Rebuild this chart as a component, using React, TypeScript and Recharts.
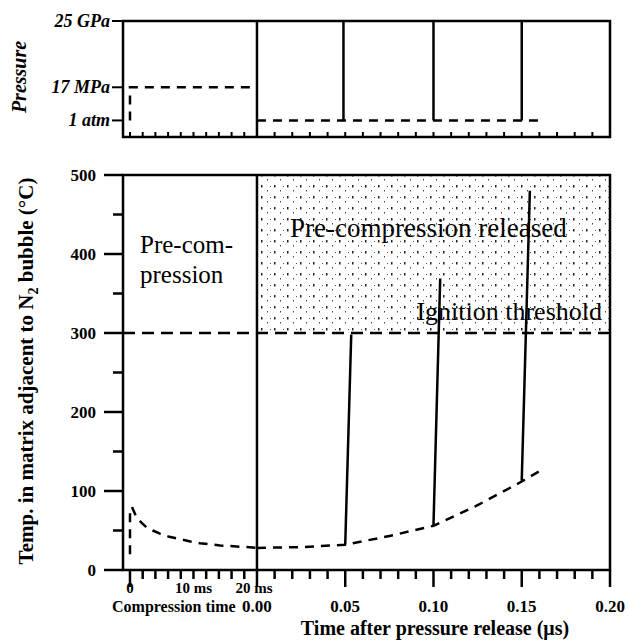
import React from 'react';
import { LineChart, Line, XAxis, YAxis, ReferenceLine, ReferenceArea } from 'recharts';

const SERIF = '"Liberation Serif", "Times New Roman", serif';
const INK = '#000';

// the time axis is split: compression time (ms) on the left, time after release (μs) on the right
const MS_END = 20;
const US_TO_UNIT = 278;
const U_MIN = -1.1;
const U_MAX = MS_END + 0.2 * US_TO_UNIT;
const fromMs = (ms: number) => ms;
const fromUs = (us: number) => MS_END + us * US_TO_UNIT;

// ticks
const msTickValues = [0, 2, 4, 6, 8, 10, 12, 14, 16, 18, 20];
const usTickValues = [0.01, 0.02, 0.03, 0.04, 0.05, 0.06, 0.07, 0.08, 0.09, 0.1, 0.11, 0.12, 0.13, 0.14, 0.15, 0.16, 0.17, 0.18, 0.19, 0.2];
const msLabelValues = [0, 10, 20];
const msLabelTexts = ['0', '10 ms', '20 ms'];
const usLabelValues = [0, 0.05, 0.1, 0.15, 0.2];
const usLabelTexts = ['0.00', '0.05', '0.10', '0.15', '0.20'];

const tempTicks = [0, 50, 100, 150, 200, 250, 300, 350, 400, 450, 500];
const tempLabelled = [0, 100, 200, 300, 400, 500];

const pressureLevels = [0.5, 1.5, 3.5];
const pressureLabels = ['1 atm', '17 MPa', '25 GPa'];

// pressure history
const compPressureMs = [0, 0, 19.5];
const compPressureLevel = [0.5, 1.5, 1.5];
const relPressureUs = [0, 0.16];
const relPressureLevel = [0.5, 0.5];
const pulseUs = [0.049, 0.1, 0.15];

// temperature history
const compTempMs = [0, 0, 0.3, 1, 1.8, 2.6, 3.6, 4.7, 6.2, 7.9, 9.5, 11, 14.2, 18.4, 20];
const compTemp = [20, 72, 80, 67, 60, 54, 50, 46, 42, 39, 36, 34, 31, 29, 28];
const relTempUs = [0, 0.025, 0.05, 0.075, 0.1, 0.125, 0.15, 0.16];
const relTemp = [28, 29, 32, 43, 56, 82, 112, 125];
const ignStartUs = [0.05, 0.1, 0.15];
const ignStartTemp = [32, 57, 113];
const ignEndUs = [0.0534, 0.1038, 0.1546];
const ignEndTemp = [298, 369, 480];

const IGNITION = 300;

const allTicks = [...msTickValues.map(fromMs), ...usTickValues.map(fromUs)];

const near = (a: number, b: number) => Math.abs(a - b) < 1e-6;

const BottomXTick = (props: any) => {
  const { x, y, payload } = props;
  const u = payload.value;
  const mi = msLabelValues.findIndex((v) => near(fromMs(v), u));
  const ui = usLabelValues.findIndex((v) => near(fromUs(v), u));
  const major = (mi >= 0 && mi !== 1) || ui >= 0;
  return (
    <g>
      <line x1={x} x2={x} y1={y} y2={y + (major ? 17 : 9)} stroke={INK} strokeWidth={2.5} />
      {mi >= 0 && (
        <text x={mi === 2 ? x - 3 : x} y={y + 23} textAnchor="middle" fontFamily={SERIF} fontWeight="bold" fontSize={15} fill={INK}>
          {msLabelTexts[mi]}
        </text>
      )}
      {ui >= 0 && (
        <text x={x} y={y + 42} textAnchor="middle" fontFamily={SERIF} fontWeight="bold" fontSize={17} fill={INK}>
          {usLabelTexts[ui]}
        </text>
      )}
    </g>
  );
};

const TopXTick = (props: any) => {
  const { x, y } = props;
  return <line x1={x} x2={x} y1={y} y2={y - 5} stroke={INK} strokeWidth={2} />;
};

const TempTick = (props: any) => {
  const { x, y, payload } = props;
  const labelled = tempLabelled.includes(payload.value);
  return (
    <g>
      <line x1={x - (labelled ? 19 : 10)} x2={x} y1={y} y2={y} stroke={INK} strokeWidth={2.5} />
      {labelled && (
        <text x={x - 27} y={y + 6} textAnchor="end" fontFamily={SERIF} fontWeight="bold" fontSize={17} fill={INK}>
          {payload.value}
        </text>
      )}
    </g>
  );
};

const PressureTick = (props: any) => {
  const { x, y, payload } = props;
  const i = pressureLevels.indexOf(payload.value);
  return (
    <g>
      <line x1={x - 11} x2={x} y1={y} y2={y} stroke={INK} strokeWidth={2} />
      <text x={x - 13} y={y + 6} textAnchor="end" fontFamily={SERIF} fontStyle="italic" fontWeight="bold" fontSize={18} fill={INK}>
        {pressureLabels[i]}
      </text>
    </g>
  );
};

const seg = (u1: number, v1: number, u2: number, v2: number) => [
  { u: u1, v: v1 },
  { u: u2, v: v2 },
];

export default function App() {
  const compPressure = compPressureMs.map((t, i) => ({ u: fromMs(t), v: compPressureLevel[i] }));
  const relPressure = relPressureUs.map((t, i) => ({ u: fromUs(t), v: relPressureLevel[i] }));
  const compT = compTempMs.map((t, i) => ({ u: fromMs(t), v: compTemp[i] }));
  const relT = relTempUs.map((t, i) => ({ u: fromUs(t), v: relTemp[i] }));

  const dashed = { stroke: INK, strokeWidth: 2.5, strokeDasharray: '9 7', dot: false, isAnimationActive: false, type: 'linear' as const };
  const solid = { stroke: INK, strokeWidth: 2.5, dot: false, isAnimationActive: false, type: 'linear' as const };

  return (
    <div style={{ position: 'absolute', left: 0, top: 0, width: 629, height: 643, background: '#fff' }}>
      <LineChart width={629} height={150} margin={{ top: 21, right: 19, bottom: 5, left: 63 }}>
        <XAxis
          dataKey="u"
          type="number"
          domain={[U_MIN, U_MAX]}
          ticks={allTicks}
          interval={0}
          tick={<TopXTick />}
          tickSize={0}
          tickMargin={0}
          axisLine={false}
          tickLine={false}
          height={8}
          allowDuplicatedCategory={false}
        />
        <YAxis
          dataKey="v"
          type="number"
          domain={[0, 3.5]}
          ticks={pressureLevels}
          interval={0}
          tick={<PressureTick />}
          tickSize={0}
          tickMargin={0}
          axisLine={false}
          tickLine={false}
          width={60}
        />
        <ReferenceArea x1={U_MIN} x2={U_MAX} y1={0} y2={3.5} fill="none" stroke={INK} strokeWidth={2.5} />
        <ReferenceLine x={MS_END} stroke={INK} strokeWidth={2.5} />
        <Line data={compPressure} dataKey="v" {...dashed} />
        <Line data={relPressure} dataKey="v" {...dashed} />
        {pulseUs.map((t, i) => (
          <Line key={i} data={seg(fromUs(t), pressureLevels[0], fromUs(t), pressureLevels[2])} dataKey="v" {...solid} />
        ))}
        <text
          transform="translate(26,77) rotate(-90)"
          textAnchor="middle"
          fontFamily={SERIF}
          fontStyle="italic"
          fontWeight="bold"
          fontSize={20}
          fill={INK}
        >
          Pressure
        </text>
      </LineChart>

      <LineChart width={629} height={493} margin={{ top: 25, right: 19, bottom: 5, left: 63 }}>
        <defs>
          <pattern id="speckle" width="13" height="11" patternUnits="userSpaceOnUse">
            <rect x="1" y="2" width="1.5" height="2.5" fill="#222" />
            <rect x="7" y="7" width="1" height="1.5" fill="#444" />
            <rect x="10" y="3" width="1" height="1" fill="#555" />
          </pattern>
        </defs>
        <XAxis
          dataKey="u"
          type="number"
          domain={[U_MIN, U_MAX]}
          ticks={allTicks}
          interval={0}
          tick={<BottomXTick />}
          tickSize={0}
          tickMargin={0}
          axisLine={false}
          tickLine={false}
          height={68}
          allowDuplicatedCategory={false}
        />
        <YAxis
          dataKey="v"
          type="number"
          domain={[0, 500]}
          ticks={tempTicks}
          interval={0}
          tick={<TempTick />}
          tickSize={0}
          tickMargin={0}
          axisLine={false}
          tickLine={false}
          width={60}
        />
        <ReferenceArea x1={MS_END} x2={U_MAX} y1={IGNITION} y2={500} fill="url(#speckle)" fillOpacity={1} stroke="none" />
        <ReferenceArea x1={U_MIN} x2={U_MAX} y1={0} y2={500} fill="none" stroke={INK} strokeWidth={2.5} />
        <ReferenceLine x={MS_END} stroke={INK} strokeWidth={2.5} />
        <ReferenceLine y={IGNITION} stroke={INK} strokeWidth={2.5} strokeDasharray="12 7" />
        <Line data={compT} dataKey="v" {...dashed} />
        <Line data={relT} dataKey="v" {...dashed} />
        {ignStartUs.map((t, i) => (
          <Line key={i} data={seg(fromUs(t), ignStartTemp[i], fromUs(ignEndUs[i]), ignEndTemp[i])} dataKey="v" {...solid} />
        ))}
        <text x={140} y={103} fontFamily={SERIF} fontSize={25} fill={INK}>Pre-com-</text>
        <text x={140} y={133} fontFamily={SERIF} fontSize={25} fill={INK}>pression</text>
        <text x={290} y={87} fontFamily={SERIF} fontSize={27} fill={INK}>Pre-compression released</text>
        <text x={602} y={170} textAnchor="end" fontFamily={SERIF} fontSize={26} fill={INK}>Ignition threshold</text>
        <text x={112} y={462} fontFamily={SERIF} fontWeight="bold" fontSize={16} fill={INK}>Compression time</text>
        <text x={435} y={485} textAnchor="middle" fontFamily={SERIF} fontWeight="bold" fontSize={20} fill={INK}>
          Time after pressure release (μs)
        </text>
        <text
          transform="translate(33,221) rotate(-90)"
          textAnchor="middle"
          fontFamily={SERIF}
          fontWeight="bold"
          fontSize={21}
          fill={INK}
        >
          Temp. in matrix adjacent to N<tspan fontSize={14} dy={5}>2</tspan>
          <tspan dy={-5}> bubble (°C)</tspan>
        </text>
      </LineChart>
    </div>
  );
}
